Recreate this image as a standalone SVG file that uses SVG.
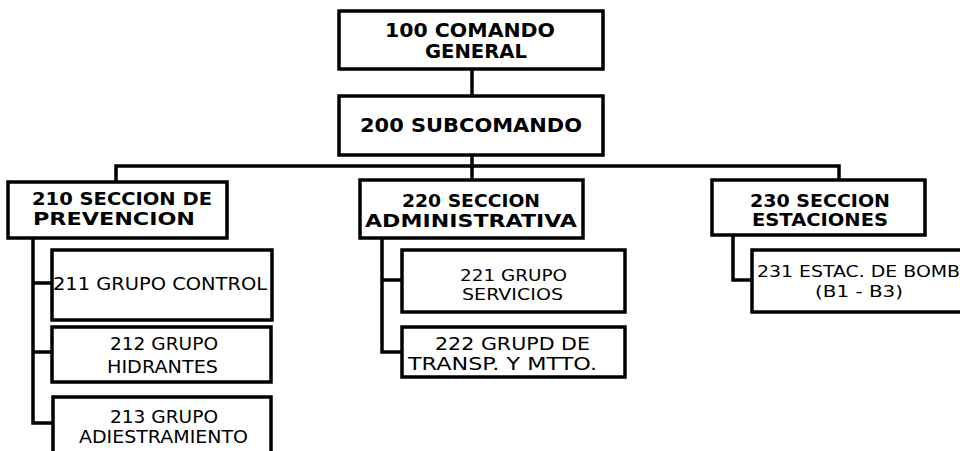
<svg xmlns="http://www.w3.org/2000/svg" width="960" height="451" viewBox="0 0 960 451">
<style>
.box{fill:#fff;stroke:#000;stroke-width:3.5}
.ln{fill:none;stroke:#000;stroke-width:3.5}
.h{font-family:"DejaVu Sans",Verdana,sans-serif;font-weight:bold;font-size:18px;fill:#000}
.h1{font-size:19px}
.t{font-family:"DejaVu Sans",Verdana,sans-serif;font-size:17px;fill:#000}
.s{font-size:16px}
</style>
<rect width="960" height="451" fill="#fff"/>
<g id="connectors">
<path class="ln" d="M472,69 V96"/>
<path class="ln" d="M472,155 V180"/>
<path class="ln" d="M116,182 V166 H839 V180"/>
<path class="ln" d="M33,238 V423 H53 M33,283 H52 M33,352 H52"/>
<path class="ln" d="M382,238 V352 H402 M382,280 H402"/>
<path class="ln" d="M733,235 V280 H752"/>
</g>
<g id="n100">
<rect class="box" x="339" y="11" width="264" height="58"/>
<text class="h h1" x="385" y="37" textLength="170" lengthAdjust="spacingAndGlyphs">100 COMANDO</text>
<text class="h h1" x="425" y="58" textLength="102" lengthAdjust="spacingAndGlyphs">GENERAL</text>
</g>
<g id="n200">
<rect class="box" x="339" y="96" width="264" height="59"/>
<text class="h h1" x="360" y="132" textLength="222" lengthAdjust="spacingAndGlyphs">200 SUBCOMANDO</text>
</g>
<g id="n210">
<rect class="box" x="8" y="182" width="219" height="56"/>
<text class="h" x="32" y="205" textLength="180" lengthAdjust="spacingAndGlyphs">210 SECCION DE</text>
<text class="h" x="33" y="225" textLength="162" lengthAdjust="spacingAndGlyphs">PREVENCION</text>
</g>
<g id="n211">
<rect class="box" x="52" y="250" width="220" height="70"/>
<text class="t" x="53" y="290" textLength="214" lengthAdjust="spacingAndGlyphs">211 GRUPO CONTROL</text>
</g>
<g id="n212">
<rect class="box" x="52" y="327" width="219" height="55"/>
<text class="t" x="110" y="350" textLength="108" lengthAdjust="spacingAndGlyphs">212 GRUPO</text>
<text class="t" x="107" y="373" textLength="111" lengthAdjust="spacingAndGlyphs">HIDRANTES</text>
</g>
<g id="n213">
<rect class="box" x="53" y="397" width="218" height="70"/>
<text class="t" x="110" y="423" textLength="108" lengthAdjust="spacingAndGlyphs">213 GRUPO</text>
<text class="t" x="79" y="443" textLength="169" lengthAdjust="spacingAndGlyphs">ADIESTRAMIENTO</text>
</g>
<g id="n220">
<rect class="box" x="360" y="180" width="223" height="58"/>
<text class="h" x="402" y="207" textLength="138" lengthAdjust="spacingAndGlyphs">220 SECCION</text>
<text class="h" x="365" y="227" textLength="212" lengthAdjust="spacingAndGlyphs">ADMINISTRATIVA</text>
</g>
<g id="n221">
<rect class="box" x="402" y="250" width="223" height="62"/>
<text class="t s" x="460" y="281" textLength="107" lengthAdjust="spacingAndGlyphs">221 GRUPO</text>
<text class="t s" x="462" y="300" textLength="101" lengthAdjust="spacingAndGlyphs">SERVICIOS</text>
</g>
<g id="n222">
<rect class="box" x="402" y="327" width="223" height="50"/>
<text class="t" x="435" y="350" textLength="155" lengthAdjust="spacingAndGlyphs">222 GRUPD DE</text>
<text class="t" x="408" y="370" textLength="189" lengthAdjust="spacingAndGlyphs">TRANSP. Y MTTO.</text>
</g>
<g id="n230">
<rect class="box" x="712" y="180" width="213" height="55"/>
<text class="h" x="750" y="207" textLength="140" lengthAdjust="spacingAndGlyphs">230 SECCION</text>
<text class="h" x="752" y="226" textLength="136" lengthAdjust="spacingAndGlyphs">ESTACIONES</text>
</g>
<g id="n231">
<rect class="box" x="752" y="250" width="230" height="62"/>
<text class="t s" x="757" y="277" textLength="203" lengthAdjust="spacingAndGlyphs">231 ESTAC. DE BOMB</text>
<text class="t s" x="815" y="297" textLength="88" lengthAdjust="spacingAndGlyphs">(B1 - B3)</text>
</g>
</svg>
